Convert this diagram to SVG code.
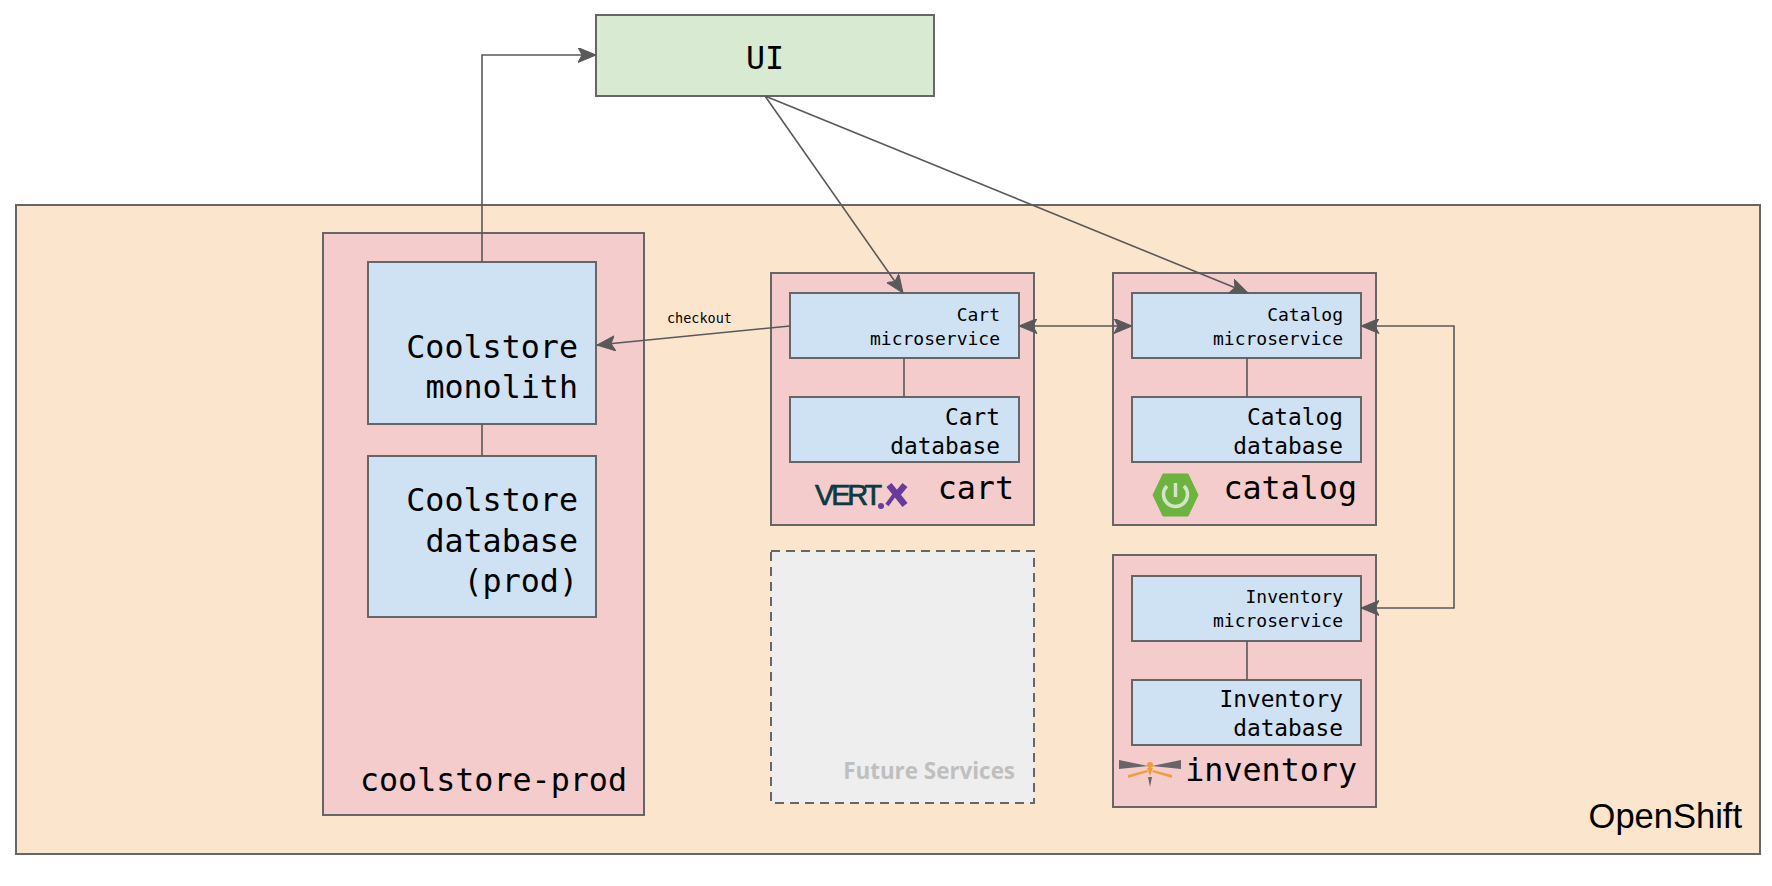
<svg xmlns="http://www.w3.org/2000/svg" width="1772" height="886" viewBox="0 0 1772 886">
<style>
.b{stroke:#666;stroke-width:2}
.p{fill:#f4cccc}.u{fill:#cfe2f3}
.c{fill:none;stroke:#595959;stroke-width:1.6}
text{font-family:"DejaVu Sans Mono","Liberation Mono",monospace;fill:#000;text-anchor:end}
.s{font-size:18px}.m{font-size:22.8px}.l{font-size:31.7px}
</style>
<defs>
<marker id="a" markerUnits="userSpaceOnUse" markerWidth="22" markerHeight="16" refX="18" refY="7.500" orient="auto"><path d="M0 0L18 7.500L0 15L4 7.500Z" fill="#595959" stroke="#595959" stroke-width="1"/></marker>
<marker id="as" markerUnits="userSpaceOnUse" markerWidth="22" markerHeight="16" refX="0" refY="7.500" orient="auto"><path d="M18 0L0 7.500L18 15L14 7.500Z" fill="#595959" stroke="#595959" stroke-width="1"/></marker>
</defs>
<rect width="1772" height="886" fill="#fff"/>
<g id="openshift"><rect class="b" x="16" y="205" width="1744" height="649" fill="#fce5cd"/><text x="1742" y="828" style="font-family:'Liberation Sans',sans-serif;font-size:34.5px">OpenShift</text></g>
<g id="ui"><rect class="b" x="596" y="15" width="338" height="81" fill="#d9ead3"/><text x="765" y="69" style="text-anchor:middle;font-size:31.7px">UI</text></g>
<g id="coolstore-prod"><rect class="b p" x="323" y="233" width="321" height="582"/><text class="l" x="627" y="791">coolstore-prod</text></g>
<g id="monolith"><rect class="b u" x="368" y="262" width="228" height="162"/><text class="l" x="578" y="358">Coolstore</text><text class="l" x="578" y="398">monolith</text></g>
<g id="coolstore-db"><rect class="b u" x="368" y="456" width="228" height="161"/><text class="l" x="578" y="511">Coolstore</text><text class="l" x="578" y="552">database</text><text class="l" x="578" y="592">(prod)</text></g>
<g id="cart"><rect class="b p" x="771" y="273" width="263" height="252"/><text class="l" x="1014" y="499">cart</text>
<g id="vertx-logo"><text x="815" y="505" style="font-family:'Liberation Sans',sans-serif;font-size:29px;fill:#0b3a42;stroke:#0b3a42;stroke-width:.7px;letter-spacing:-3.200px;text-anchor:start">VERT</text><circle cx="881" cy="506" r="3" fill="#673a9c"/><path d="M889 485L905 505M905 485L895 497" stroke="#673a9c" stroke-width="6.500" fill="none"/><path d="M895 494L887 505" stroke="#673a9c" stroke-width="4" fill="none"/></g></g>
<g id="cart-ms"><rect class="b u" x="790" y="293" width="229" height="65"/><text class="s" x="1000" y="321">Cart</text><text class="s" x="1000" y="345">microservice</text></g>
<g id="cart-db"><rect class="b u" x="790" y="397" width="229" height="65"/><text class="m" x="1000" y="425">Cart</text><text class="m" x="1000" y="454">database</text></g>
<g id="catalog"><rect class="b p" x="1113" y="273" width="263" height="252"/><text class="l" x="1357" y="499">catalog</text>
<g id="spring-logo"><path d="M1153 495L1163 474H1188L1198 495L1188 516H1163Z" fill="#6db33f" stroke="#6db33f" stroke-width="1" stroke-linejoin="round"/><path d="M1167 486a12 12 0 1 0 17 0" fill="none" stroke="#d5e4c8" stroke-width="3.500"/><path d="M1175.500 483v14" stroke="#d5e4c8" stroke-width="3.500"/></g></g>
<g id="catalog-ms"><rect class="b u" x="1132" y="293" width="229" height="65"/><text class="s" x="1343" y="321">Catalog</text><text class="s" x="1343" y="345">microservice</text></g>
<g id="catalog-db"><rect class="b u" x="1132" y="397" width="229" height="65"/><text class="m" x="1343" y="425">Catalog</text><text class="m" x="1343" y="454">database</text></g>
<g id="inventory"><rect class="b p" x="1113" y="555" width="263" height="252"/><text class="l" x="1357" y="781">inventory</text>
<g id="dragonfly-logo"><path d="M1119 760L1148 766L1119 769ZM1181 760L1152 766L1181 769Z" fill="#666"/><path d="M1128 775L1147 770L1148 772L1128 778ZM1172 775L1153 770L1152 772L1172 778Z" fill="#f39c3d"/><circle cx="1150" cy="765" r="3" fill="#f39c3d"/><path d="M1147 768H1153L1150 776Z" fill="#f39c3d"/><path d="M1148 777H1152L1150 787Z" fill="#666"/></g></g>
<g id="inventory-ms"><rect class="b u" x="1132" y="576" width="229" height="65"/><text class="s" x="1343" y="603">Inventory</text><text class="s" x="1343" y="627">microservice</text></g>
<g id="inventory-db"><rect class="b u" x="1132" y="680" width="229" height="65"/><text class="m" x="1343" y="707">Inventory</text><text class="m" x="1343" y="736">database</text></g>
<g id="future"><rect x="771" y="551" width="263" height="252" fill="#eee" stroke="#666" stroke-width="2" stroke-dasharray="9 6"/><text x="1015" y="779" style="font-family:'Open Sans',sans-serif;font-size:22.400px;font-weight:700;fill:#bfbfbf">Future Services</text></g>
<g id="connectors">
<path class="c" d="M482 262V55H596" marker-end="url(#a)"/>
<path class="c" d="M765 96L903 293" marker-end="url(#a)"/>
<path class="c" d="M765 96L1248 293" marker-end="url(#a)"/>
<path class="c" d="M790 326L597 345" marker-end="url(#a)"/>
<path class="c" d="M1019 326H1132" marker-start="url(#as)" marker-end="url(#a)"/>
<path class="c" d="M1361 326H1454V608H1361" marker-start="url(#as)" marker-end="url(#a)"/>
<path class="c" d="M482 424V456M904 358V397M1247 358V397M1247 641V680"/>
</g>
<text x="732" y="323" style="font-size:13.500px">checkout</text>
</svg>
